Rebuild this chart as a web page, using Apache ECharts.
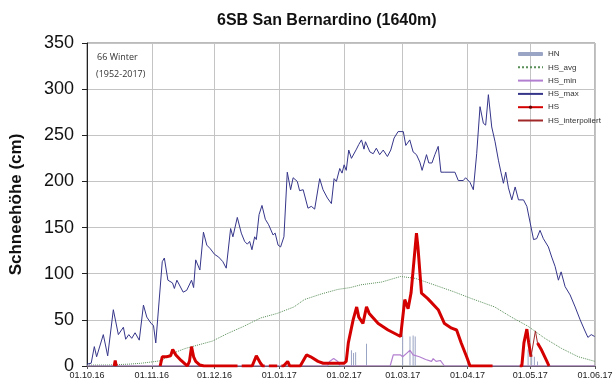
<!DOCTYPE html>
<html><head><meta charset="utf-8">
<script src="https://cdn.jsdelivr.net/npm/echarts@6/dist/echarts.min.js"></script>
<style>html,body{margin:0;padding:0;background:#fff}#c{width:616px;height:388px}</style>
</head><body><div id="c"></div>
<script>
// x values are days since 01.10.16
const monthStartDays = [0,31,61,92,123,151,182,212,243];
const tickLabels = ['01.10.16','01.11.16','01.12.16','01.01.17','01.02.17','01.03.17','01.04.17','01.05.17','01.06.17'];
const yTicks = [0,50,100,150,200,250,300,350];

const hsMax = [[0,2],[2,3],[3.5,21],[4.6,10],[7.8,34],[9.9,11],[12.6,61],[15,34],[17.4,42],[18.5,29],[20,34],[21.4,30],[23,36],[25,28],[27,66],[28.6,53],[30.7,46],[31.8,44],[32.9,25],[36,113],[37,117],[38.7,93],[40.9,90],[41.8,84],[43,93],[43.7,94],[46,80],[47.7,82],[50,93],[51,85],[52,115],[54,104],[55.7,145],[57.3,131],[59,127],[61,121],[63,118],[65,113],[66.6,106],[68.7,149],[69.8,140],[71.9,161],[73.8,144],[75.4,135],[76.7,132],[77.8,135],[78.9,126],[80.2,140],[81,137],[82.3,164],[83.7,174],[85.3,159],[86.9,153],[89,142],[90,144],[91.4,131],[92.6,129],[94.2,140],[95.8,210],[97.4,191],[98.6,204],[100.6,200],[101.7,190],[103.4,191],[105.7,171],[107.3,173],[108.9,170],[111.3,203],[112.9,191],[115,182],[116.9,176],[118.2,203],[119.3,200],[120.9,214],[122,209],[123,218],[124,212],[125.2,234],[126.5,225],[128.9,235],[130,240],[131.3,245],[132.5,235],[133.2,243],[135.3,232],[136.9,230],[138.4,236],[140,229],[141.7,234],[143.7,227],[145.3,234],[146.9,247],[148.8,254],[151.3,254],[152.5,239],[154.4,245],[156,232],[157.6,229],[159.2,221],[160.3,212],[162.4,229],[163.5,220],[165,220],[166.4,229],[168,238],[169.3,210],[171.2,210],[176,210],[177.6,201],[180,201],[181.1,204],[183.2,199],[184.8,191],[186.4,230],[188,281],[189.6,263],[190.7,261],[192,294],[193.6,259],[195.2,243],[196.8,223],[198,210],[199.2,198],[200.3,210],[201.6,193],[203.2,180],[204.8,194],[206.4,180],[208.8,180],[210.4,173],[212,155],[213.6,137],[215.1,138],[216.7,147],[218.3,138],[220.7,129],[222.3,118],[223.9,108],[225.5,93],[226.8,102],[228.7,86],[231.1,77],[233.5,64],[235.9,50],[238,39],[239.6,31],[241.2,34],[242.8,32]];

const hsAvg = [[0,1],[10,1],[20,2],[26,3],[33,5],[36,6],[39,12],[47,19],[60,27],[67,35],[75,43],[83,52],[91,57],[99,64],[104,72],[112,78],[120,83],[126,85],[131,88],[141,91],[150,97],[157,95],[166,88],[176,80],[184,73],[195,64],[203,53],[211,43],[219,30],[227,19],[235,10],[243,5]];

const hsMin = [[0,0],[115,0],[116,5],[118,8],[120,5],[121,0],[145,0],[146.5,12],[150,12],[151,10],[153,14],[154.5,17],[156,12],[159,10],[162,7],[164.8,5],[165.6,8],[167,5],[169,6],[171,0],[243,0]];

const hs = [[13,0],[13.5,6],[14,0],[14.5,null],
  [35,0],[36,10],[38,10],[40,11],[41,18],[42.5,12],[45,6],[47,2],[48,0],[49,5],[50,21],[51,10],[52,5],[54,1],[56,0],[72,0],[73,null],[74,0],[79,0],[81,11],[83,3],[84,0],[85,0],[86,null],[87,0],[91,0],[92,null],[93,0],[94,0],[96,5],[97,0],[102,0],[105,12],[107,10],[110.5,5],[113,3],[117,3],[123,3],[124,5],[125,25],[127.3,50],[129,64],[130,53],[132,46],[133.7,64],[135,57],[139.3,46],[144,39],[150,32],[152,72],[153.6,62],[155,79],[157.6,144],[158.3,129],[160,79],[163,73],[168,61],[171,46],[174.4,41],[176.8,39],[179,25],[181.6,10],[183.2,0],[194,0],[195,null],
  [207,0],[208,0],[209,25],[210.4,40],[211.3,25],[212.4,10],[213,null],
  [215.5,25],[217.5,17],[220,5],[221,0]];

const hsInterp = [[212.4,10],[214.5,38],[215.5,25]];

const hn = [[126.5,17],[127.5,14],[128.5,15],[133.7,24],[151,33],[154.5,32],[156,33],[157,32],[208,5],[211,18],[212.7,14],[214,10],[215.5,5]];

const chart = echarts.init(document.getElementById('c'));
const F = 'Liberation Sans, Arial, sans-serif';
chart.setOption({
  animation: false,
  backgroundColor: '#fff',
  title: {
    text: '6SB San Bernardino (1640m)',
    left: 212, top: 8,
    textStyle: {fontFamily: F, fontSize: 16, fontWeight: 'bold', color: '#111'}
  },
  graphic: [
    {type: 'text', left: 97, top: 53, style: {text: '66 Winter', font: '9px "Open Sans", sans-serif', fill: '#333'}},
    {type: 'text', left: 96, top: 70, style: {text: '(1952-2017)', font: '9px "Open Sans", sans-serif', fill: '#333'}}
  ],
  legend: {
    orient: 'vertical', left: 512, top: 45,
    itemWidth: 25, itemHeight: 4, itemGap: 5.3,
    itemStyle: {opacity: 0},
    textStyle: {fontFamily: F, fontSize: 8, color: '#333'},
    data: [
      {name: 'HN', itemStyle: {opacity: 1}},
      'HS_avg', 'HS_min', 'HS_max',
      {name: 'HS', itemStyle: {opacity: 1, color: '#6a0000'}},
      'HS_interpoliert'
    ]
  },
  grid: {left: 86, right: 21, top: 43, bottom: 22, show: true, borderColor: '#777', borderWidth: 1},
  xAxis: {
    type: 'value', min: 0, max: 243,
    axisLine: {show: true, lineStyle: {color: '#555'}},
    axisTick: {show: true, customValues: monthStartDays, length: 3, lineStyle: {color: '#555'}},
    axisLabel: {customValues: monthStartDays, fontFamily: F, fontSize: 9, color: '#222', margin: 5,
      formatter: v => tickLabels[monthStartDays.indexOf(v)] || ''},
    splitLine: {show: true, lineStyle: {color: '#c4c4c4'}}
  },
  yAxis: {
    type: 'value', min: 0, max: 350, interval: 50,
    name: 'Schneehöhe (cm)', nameLocation: 'middle', nameGap: 62,
    nameTextStyle: {fontFamily: F, fontSize: 17, fontWeight: 'bold', color: '#111'},
    axisLine: {show: true, lineStyle: {color: '#222'}},
    axisTick: {show: true, length: 5, lineStyle: {color: '#222'}},
    axisLabel: {fontFamily: F, fontSize: 18, color: '#111', margin: 13,
      formatter: v => yTicks.indexOf(v) >= 0 ? String(v) : ''},
    splitLine: {show: true, lineStyle: {color: '#c4c4c4'}}
  },
  series: [
    {name: 'HN', type: 'bar', data: hn, barWidth: 1, itemStyle: {color: '#9aa4c4'}},
    {name: 'HS_avg', type: 'line', data: hsAvg, symbol: 'none', lineStyle: {color: '#5a8f5a', width: 1, type: 'dotted'}, itemStyle: {color: '#5a8f5a'}},
    {name: 'HS_min', type: 'line', data: hsMin, symbol: 'none', lineStyle: {color: '#b27fd0', width: 1.2}, itemStyle: {color: '#b27fd0'}},
    {name: 'HS_max', type: 'line', data: hsMax, symbol: 'none', lineStyle: {color: '#35358a', width: 1}, itemStyle: {color: '#35358a'}},
    {name: 'HS', type: 'line', data: hs, symbol: 'none', connectNulls: false, lineStyle: {color: '#d40000', width: 3}, itemStyle: {color: '#d40000'}},
    {name: 'HS_interpoliert', type: 'line', data: hsInterp, symbol: 'none', lineStyle: {color: '#a02828', width: 1}, itemStyle: {color: '#a02828'}}
  ]
});
</script></body></html>
